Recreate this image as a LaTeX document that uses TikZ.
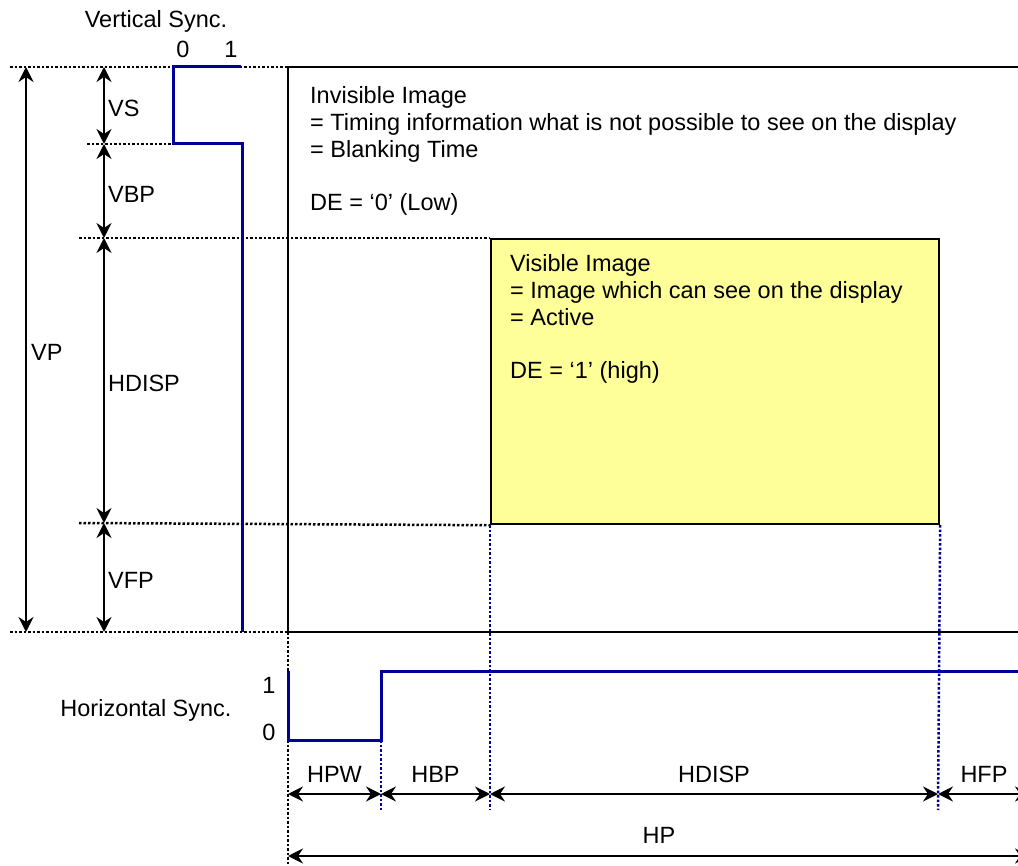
\documentclass[tikz,border=0pt]{standalone}
\usepackage{fontspec}
\setmainfont{Liberation Sans}
\usetikzlibrary{arrows.meta}
\definecolor{syncblue}{RGB}{0,0,150}
\definecolor{activeyellow}{RGB}{255,255,153}

\begin{document}
\begin{tikzpicture}[
  x=1pt, y=-1pt,
  every node/.style={font=\fontsize{23.5}{26.8}\selectfont, inner sep=0pt},
  txt/.style={anchor=base},
  block/.style={anchor=base west, align=left},
  guide/.style={line width=2.5pt, dash pattern=on 2.5pt off 2pt},
  blueguide/.style={guide, draw=syncblue},
  signal/.style={line width=3pt, draw=syncblue},
  frame/.style={line width=2.2pt},
  activebox/.style={draw, line width=2.2pt, fill=activeyellow,
    anchor=north west, minimum width=448pt, minimum height=285pt},
  dim/.style={<->, >={Stealth[length=15pt,width=15pt,inset=5pt]},
    line width=2.2pt},
  vlabel/.style={midway, anchor=west, xshift=3pt, yshift=-3pt},
  hlabel/.style={midway, anchor=base, yshift=12pt}
]
  \useasboundingbox (0,0) rectangle (1018,866);
  \clip (0,0) rectangle (1018,866);

  \coordinate (fr nw) at (288,67);
  \coordinate (fr ne) at (1030,67);
  \coordinate (fr sw) at (288,632);
  \coordinate (fr se) at (1030,632);

  \node[activebox] (active) at (490,238) {};

  \coordinate (g top) at (10,67);
  \coordinate (g vs) at (87,144);
  \coordinate (g vbp) at (79,238);
  \coordinate (g disp) at (79,523);
  \coordinate (g bot) at (10,632);
  \coordinate (g foot) at (288,866);
  \draw[guide] (g top) -- (fr nw);
  \draw[guide] (g vs) -- (173,144);
  \draw[guide] (g vbp) -- (active.north west);
  \draw[guide] (g disp) -- (active.south west);
  \draw[guide] (g bot) -- (fr sw);
  \draw[guide] (fr sw) -- (g foot);

  \draw[frame] (fr ne) -- (fr nw) -- (fr sw) -- (fr se);

  \node[txt] (vsync) at (156,28) {Vertical Sync.};
  \node[txt] (vs lo) at (183,58) {0};
  \node[txt] (vs hi) at (231,58) {1};
  \coordinate (vs a) at (241,67);
  \coordinate (vs b) at (173,67);
  \coordinate (vs c) at (173,144);
  \coordinate (vs d) at (242,144);
  \coordinate (vs e) at (242,632);
  \draw[signal] (vs a) -- (vs b) -- (vs c) -- (vs d) -- (vs e);

  \coordinate (vp top) at (26,67);
  \coordinate (vp bot) at (26,632);
  \coordinate (v0) at (104,67);
  \coordinate (v1) at (104,144);
  \coordinate (v2) at (104,238);
  \coordinate (v3) at (104,523);
  \coordinate (v4) at (104,632);
  \draw[dim] (vp top) -- node[vlabel, xshift=1pt] (vp) {VP} (vp bot);
  \draw[dim] (v0) -- node[vlabel] (vs) {VS} (v1);
  \draw[dim] (v1) -- node[vlabel] (vbp) {VBP} (v2);
  \draw[dim] (v2) -- node[vlabel] (vdisp) {HDISP} (v3);
  \draw[dim] (v3) -- node[vlabel] (vfp) {VFP} (v4);

  \node[block] (invisible) at (310,211) {Invisible Image\\
    = Timing information what is not possible to see on the display\\
    = Blanking Time\\[26.8pt]
    DE = ‘0’ (Low)};
  \node[block] (visible) at (510,379) {Visible Image\\
    = Image which can see on the display\\
    = Active\\[26.8pt]
    DE = ‘1’ (high)};

  \node[txt] (hsync) at (146,716) {Horizontal Sync.};
  \node[txt] (hs hi) at (269,693) {1};
  \node[txt] (hs lo) at (269,740) {0};
  \coordinate (hs a) at (288,671);
  \coordinate (hs b) at (288,740);
  \coordinate (hs c) at (381,740);
  \coordinate (hs d) at (381,671);
  \coordinate (hs e) at (1030,671);
  \draw[signal] (hs a) -- (hs b) -- (hs c) -- (hs d) -- (hs e);

  \coordinate (t pw) at (381,810);
  \coordinate (t bp) at (490,810);
  \coordinate (t fp) at (938,810);
  \draw[blueguide] (hs c) -- (t pw);
  \draw[blueguide] (active.south west) -- (t bp);
  \draw[blueguide] (active.south east) -- (t fp);

  \coordinate (h0) at (288,794);
  \coordinate (h1) at (381,794);
  \coordinate (h2) at (490,794);
  \coordinate (h3) at (938,794);
  \coordinate (h4) at (1030,794);
  \coordinate (hp0) at (288,856);
  \coordinate (hp1) at (1030,856);
  \draw[dim] (h0) -- node[hlabel] (hpw) {HPW} (h1);
  \draw[dim] (h1) -- node[hlabel] (hbp) {HBP} (h2);
  \draw[dim] (h2) -- node[hlabel] (hdisp) {HDISP} (h3);
  \draw[dim] (h3) -- node[hlabel] (hfp) {HFP} (h4);
  \draw[dim] (hp0) -- node[hlabel, yshift=1pt] (hp) {HP} (hp1);
\end{tikzpicture}
\end{document}
